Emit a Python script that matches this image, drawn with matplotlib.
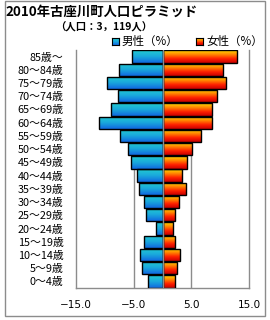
import numpy as np
import matplotlib
matplotlib.use("Agg")
import matplotlib.pyplot as plt
from matplotlib.colors import LinearSegmentedColormap
from matplotlib.patches import Rectangle

plt.rcParams['font.family'] = ['Noto Sans CJK JP', 'DejaVu Sans']

title = "2010年古座川町人口ピラミッド"
subtitle = "（人口：3，119人）"
categories = ['0～4歳', '5～9歳', '10～14歳', '15～19歳', '20～24歳', '25～29歳',
              '30～34歳', '35～39歳', '40～44歳', '45～49歳', '50～54歳', '55～59歳',
              '60～64歳', '65～69歳', '70～74歳', '75～79歳', '80～84歳', '85歳～']
male = [2.6, 3.6, 3.9, 3.2, 1.1, 2.9, 3.2, 4.1, 4.4, 5.4, 6.0, 7.4, 11.0, 8.9, 7.8, 9.6, 7.6, 5.3]
female = [2.1, 2.6, 3.0, 2.1, 1.9, 2.1, 2.8, 4.1, 3.4, 4.3, 5.2, 6.6, 8.5, 8.5, 9.5, 11.0, 10.5, 12.9]
xticks = [-15, -5, 5, 15]
xticklabels = ['−15.0', '−5.0', '5.0', '15.0']
legend_labels = ['男性（%）', '女性（%）']

W, H = 270, 320
fig = plt.figure(figsize=(W / 100, H / 100), dpi=100)
ax = fig.add_axes([76 / W, 1 - 288 / H, (249 - 76) / W, (288 - 50) / H])

male_cmap = LinearSegmentedColormap.from_list('m', ['#1068e0', '#1aa8dc', '#22ccd0'])
female_cmap = LinearSegmentedColormap.from_list('f', ['#c80000', '#ff2000', '#ff8800', '#ffdc00'])

y = np.arange(len(categories))
bh = 0.93
mbars = ax.barh(y, [-v for v in male], height=bh, color='none', edgecolor='black', linewidth=1.0, zorder=3)
fbars = ax.barh(y, female, height=bh, color='none', edgecolor='black', linewidth=1.0, zorder=3)

ax.set_xlim(-15, 15)
ax.set_ylim(-0.5, len(categories) - 0.5)

grad = np.linspace(0, 1, 64).reshape(-1, 1)
for bars, cmap in ((mbars, male_cmap), (fbars, female_cmap)):
    for p in bars:
        x0, y0 = p.get_x(), p.get_y()
        w, h = p.get_width(), p.get_height()
        im = ax.imshow(grad, cmap=cmap, origin='lower', aspect='auto',
                       extent=(x0, x0 + w, y0, y0 + h), zorder=2, interpolation='bilinear')
        im.set_clip_path(p)

ax.set_xlim(-15, 15)
ax.set_ylim(-0.5, len(categories) - 0.5)

for xv in [-5, 5]:
    ax.axvline(xv, color='#8c8c8c', lw=1.0, zorder=1)
ax.axvline(0, color='#8c8c8c', lw=1.0, zorder=4)

for s in ['left', 'bottom', 'right']:
    ax.spines[s].set_color('#8c8c8c')
    ax.spines[s].set_linewidth(1.0)
ax.spines['top'].set_visible(False)

ax.set_yticks(y)
ax.set_yticklabels(categories, fontsize=7.8)
ax.set_xticks(xticks)
ax.set_xticklabels(xticklabels, fontsize=7.5, family=['DejaVu Sans'])
ax.tick_params(axis='y', length=0, pad=9)
ax.tick_params(axis='x', length=0, pad=9)

fig.text(5 / W, 1 - 12 / H, title, fontsize=9.6, fontweight='bold', ha='left', va='center')
fig.text(55 / W, 1 - 27 / H, subtitle, fontsize=7.5, fontweight='bold', ha='left', va='center')

# legend
for lx, cmap, lab in ((112, male_cmap, legend_labels[0]), (196, female_cmap, legend_labels[1])):
    lax = fig.add_axes([lx / W, 1 - 45 / H, 7 / W, 7 / H])
    lax.imshow(grad, cmap=cmap, origin='lower', aspect='auto', extent=(0, 1, 0, 1))
    lax.set_xticks([]); lax.set_yticks([])
    for s in lax.spines.values():
        s.set_color('black'); s.set_linewidth(0.8)
    fig.text((lx + 10) / W, 1 - 41.5 / H, lab, fontsize=8.3, ha='left', va='center')

fig.patches.append(Rectangle((5 / W, 1 - 316 / H), 260 / W, 315 / H, transform=fig.transFigure,
                             fill=False, edgecolor='#8c8c8c', lw=1.0))

fig.savefig('out.png', dpi=100)
